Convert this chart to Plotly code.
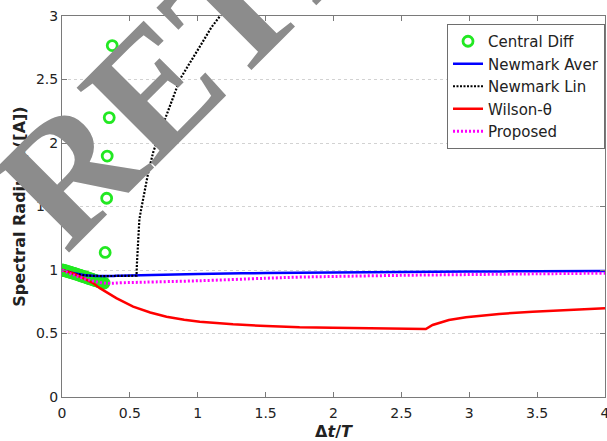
import plotly.graph_objects as go

# ---- data ----
cd_x = [0.00, 0.01, 0.02, 0.03, 0.04, 0.05, 0.06, 0.07, 0.08, 0.09, 0.10, 0.11, 0.12, 0.13, 0.14, 0.15,
        0.16, 0.17, 0.18, 0.19, 0.20, 0.21, 0.22, 0.23, 0.24, 0.25, 0.26, 0.27, 0.28, 0.29, 0.30, 0.31,
        0.318, 0.329, 0.333, 0.348, 0.370]
cd_y = [1.000, 0.998, 0.995, 0.992, 0.989, 0.986, 0.983, 0.979, 0.976, 0.973, 0.969, 0.966, 0.962, 0.959, 0.955, 0.952,
        0.948, 0.945, 0.941, 0.937, 0.934, 0.930, 0.927, 0.923, 0.920, 0.916, 0.913, 0.909, 0.906, 0.903, 0.900, 0.897,
        1.138, 1.565, 1.897, 2.200, 2.767]

na_x = [0, 0.05, 0.1, 0.15, 0.2, 0.25, 0.3, 0.4, 0.5, 0.75, 1.0, 1.5, 2.0, 2.5, 3.0, 3.5, 4.0]
na_y = [1.000, 0.985, 0.972, 0.962, 0.956, 0.953, 0.952, 0.954, 0.957, 0.963, 0.968, 0.976, 0.981, 0.985, 0.988, 0.990, 0.992]

nl_x = [0, 0.05, 0.1, 0.15, 0.2, 0.3, 0.4, 0.5, 0.549, 0.552, 0.556, 0.561, 0.57, 0.58, 0.598, 0.635, 0.671, 0.72,
        0.77, 0.82, 0.868, 0.93, 0.99, 1.05, 1.10, 1.15, 1.20]
nl_y = [1.000, 0.983, 0.968, 0.960, 0.955, 0.952, 0.952, 0.952, 0.955, 1.05, 1.16, 1.29, 1.40, 1.46, 1.555, 1.766, 1.924, 2.08,
        2.22, 2.37, 2.50, 2.61, 2.71, 2.82, 2.91, 2.98, 3.05]

wt_x = [0, 0.08, 0.157, 0.23, 0.279, 0.353, 0.40, 0.524, 0.65, 0.77, 0.9, 1.015, 1.26, 1.505, 1.75, 1.995, 2.24, 2.485, 2.68,
        2.73, 2.85, 2.976, 3.22, 3.466, 3.71, 4.0]
wt_y = [1.000, 0.975, 0.936, 0.896, 0.857, 0.812, 0.778, 0.711, 0.665, 0.632, 0.608, 0.593, 0.572, 0.559, 0.549, 0.545, 0.540, 0.537, 0.535,
        0.567, 0.606, 0.628, 0.654, 0.672, 0.685, 0.699]

pr_x = [0, 0.083, 0.2, 0.33, 0.45, 0.6, 1.0, 1.5, 1.75, 2.0, 2.5, 3.0, 3.5, 4.0]
pr_y = [1.000, 0.962, 0.92, 0.896, 0.900, 0.904, 0.915, 0.935, 0.944, 0.949, 0.958, 0.964, 0.970, 0.975]

x_ticks = [0, 0.5, 1, 1.5, 2, 2.5, 3, 3.5, 4]
y_ticks = [0, 0.5, 1, 1.5, 2, 2.5, 3]

FONT = "DejaVu Sans, Arial"

fig = go.Figure()
fig.add_trace(go.Scatter(x=cd_x, y=cd_y, mode="markers", name="Central Diff",
                         marker=dict(symbol="circle-open", size=10, color="#22e822", line=dict(width=2.8, color="#22e822"))))
fig.add_trace(go.Scatter(x=na_x, y=na_y, mode="lines", name="Newmark Aver",
                         line=dict(color="#0000ff", width=2.5, shape="spline")))
fig.add_trace(go.Scatter(x=nl_x, y=nl_y, mode="lines", name="Newmark Lin",
                         line=dict(color="#000000", width=2.2, dash="2px,1.5px")))
fig.add_trace(go.Scatter(x=wt_x, y=wt_y, mode="lines", name="Wilson-θ",
                         line=dict(color="#ff0000", width=2.5)))
fig.add_trace(go.Scatter(x=pr_x, y=pr_y, mode="lines", name="Proposed",
                         line=dict(color="#ff00ff", width=3, dash="2px,2px", shape="spline")))

axis_common = dict(showline=True, linecolor="#7a7a7a", linewidth=1, mirror="ticks",
                   ticks="inside", ticklen=5, tickcolor="#7a7a7a", zeroline=False,
                   ticklabeloverflow="allow", automargin=False,
                   tickfont=dict(family=FONT, size=14, color="#222"))

fig.update_xaxes(range=[0, 4], tickvals=x_ticks, showgrid=False, ticklabelstandoff=3,
                 title=dict(text="<b>Δ<i>t</i>/<i>T</i></b>", font=dict(family=FONT, size=16, color="#222"),
                            standoff=8),
                 **axis_common)
fig.update_yaxes(range=[0, 3], tickvals=y_ticks, showgrid=True, gridcolor="#d2d2d2", griddash="dot", gridwidth=1,
                 title=dict(text="<b>Spectral Radius ρ([A])</b>", font=dict(family=FONT, size=16, color="#222"),
                            standoff=6),
                 **axis_common)

fig.update_layout(
    width=607, height=441,
    margin=dict(l=62, r=2, t=16, b=44),
    paper_bgcolor="white", plot_bgcolor="white",
    showlegend=True,
    legend=dict(x=1, xanchor="right", y=0.979, yanchor="top",
                bgcolor="white", bordercolor="#6e6e6e", borderwidth=1,
                font=dict(family=FONT, size=15, color="#222"),
                tracegroupgap=0),
    annotations=[dict(text="<b>RETRACTED</b>", xref="paper", yref="paper", x=0.628, y=1.467,
                      xanchor="center", yanchor="middle", showarrow=False, textangle=-45,
                      font=dict(family="Liberation Serif, Times New Roman", size=170, color="#8c8c8c"))],
)

fig.write_html("out.html")
